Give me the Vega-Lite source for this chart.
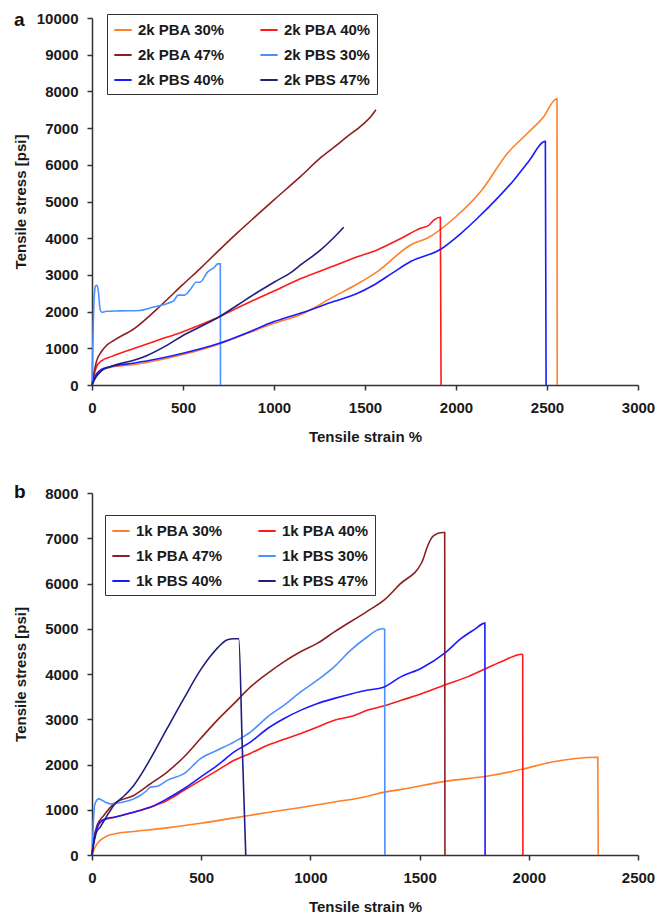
{
  "$schema": "https://vega.github.io/schema/vega-lite/v6.json",
  "padding": {"left": 13, "top": 11, "right": 5, "bottom": 0},
  "bounds": "flush",
  "spacing": 108,
  "config": {
    "font": "Liberation Sans",
    "view": {"stroke": null},
    "axis": {
      "grid": false,
      "domainColor": "#333333",
      "domainWidth": 1.5,
      "tickColor": "#333333",
      "tickWidth": 1.5,
      "tickSize": 5,
      "labelFont": "Liberation Sans",
      "labelFontSize": 15,
      "labelFontWeight": "bold",
      "labelColor": "#1a1a1a",
      "labelFlush": false,
      "labelOverlap": false,
      "titleFont": "Liberation Sans",
      "titleFontSize": 15,
      "titleFontWeight": "bold",
      "titleColor": "#1a1a1a"
    },
    "axisX": {"labelPadding": 10, "titlePadding": 14},
    "axisY": {"labelPadding": 9, "titleX": -72, "titleBaseline": "middle"},
    "legend": {
      "orient": "none",
      "columns": 2,
      "title": null,
      "symbolType": "stroke",
      "symbolSize": 300,
      "symbolStrokeWidth": 2,
      "labelFont": "Liberation Sans",
      "labelFontSize": 15,
      "labelFontWeight": "bold",
      "labelColor": "#1a1a1a",
      "labelOffset": 5,
      "strokeColor": "#333333",
      "fillColor": "white",
      "padding": 6,
      "rowPadding": 7,
      "columnPadding": 31
    },
    "title": {"font": "Liberation Sans", "fontSize": 19, "fontWeight": "bold", "color": "#111111"}
  },
  "resolve": {
    "scale": {"x": "independent", "y": "independent", "color": "independent"},
    "legend": {"color": "independent"}
  },
  "datasets": {
    "a": [
      {"s": "2k PBA 30%", "x": 0, "y": 0}, {"s": "2k PBA 30%", "x": 10, "y": 150}, {"s": "2k PBA 30%", "x": 25, "y": 300}, {"s": "2k PBA 30%", "x": 50, "y": 400}, {"s": "2k PBA 30%", "x": 100, "y": 480}, {"s": "2k PBA 30%", "x": 234, "y": 560}, {"s": "2k PBA 30%", "x": 350, "y": 660}, {"s": "2k PBA 30%", "x": 500, "y": 830}, {"s": "2k PBA 30%", "x": 700, "y": 1120}, {"s": "2k PBA 30%", "x": 850, "y": 1400}, {"s": "2k PBA 30%", "x": 1000, "y": 1680}, {"s": "2k PBA 30%", "x": 1148, "y": 1920}, {"s": "2k PBA 30%", "x": 1331, "y": 2416}, {"s": "2k PBA 30%", "x": 1450, "y": 2730}, {"s": "2k PBA 30%", "x": 1570, "y": 3098}, {"s": "2k PBA 30%", "x": 1753, "y": 3823}, {"s": "2k PBA 30%", "x": 1844, "y": 4005}, {"s": "2k PBA 30%", "x": 1991, "y": 4550}, {"s": "2k PBA 30%", "x": 2137, "y": 5278}, {"s": "2k PBA 30%", "x": 2284, "y": 6321}, {"s": "2k PBA 30%", "x": 2394, "y": 6866}, {"s": "2k PBA 30%", "x": 2480, "y": 7300}, {"s": "2k PBA 30%", "x": 2544, "y": 7774}, {"s": "2k PBA 30%", "x": 2555, "y": 7800}, {"s": "2k PBA 30%", "x": 2556, "y": 0},
      {"s": "2k PBA 40%", "x": 0, "y": 0}, {"s": "2k PBA 40%", "x": 10, "y": 250}, {"s": "2k PBA 40%", "x": 25, "y": 500}, {"s": "2k PBA 40%", "x": 50, "y": 650}, {"s": "2k PBA 40%", "x": 110, "y": 780}, {"s": "2k PBA 40%", "x": 234, "y": 1000}, {"s": "2k PBA 40%", "x": 350, "y": 1200}, {"s": "2k PBA 40%", "x": 500, "y": 1454}, {"s": "2k PBA 40%", "x": 600, "y": 1650}, {"s": "2k PBA 40%", "x": 700, "y": 1863}, {"s": "2k PBA 40%", "x": 850, "y": 2220}, {"s": "2k PBA 40%", "x": 1000, "y": 2560}, {"s": "2k PBA 40%", "x": 1148, "y": 2900}, {"s": "2k PBA 40%", "x": 1331, "y": 3250}, {"s": "2k PBA 40%", "x": 1450, "y": 3480}, {"s": "2k PBA 40%", "x": 1570, "y": 3687}, {"s": "2k PBA 40%", "x": 1700, "y": 4000}, {"s": "2k PBA 40%", "x": 1808, "y": 4278}, {"s": "2k PBA 40%", "x": 1850, "y": 4350}, {"s": "2k PBA 40%", "x": 1880, "y": 4500}, {"s": "2k PBA 40%", "x": 1914, "y": 4569}, {"s": "2k PBA 40%", "x": 1918, "y": 0},
      {"s": "2k PBA 47%", "x": 0, "y": 0}, {"s": "2k PBA 47%", "x": 10, "y": 300}, {"s": "2k PBA 47%", "x": 25, "y": 650}, {"s": "2k PBA 47%", "x": 50, "y": 900}, {"s": "2k PBA 47%", "x": 80, "y": 1080}, {"s": "2k PBA 47%", "x": 125, "y": 1230}, {"s": "2k PBA 47%", "x": 234, "y": 1545}, {"s": "2k PBA 47%", "x": 381, "y": 2180}, {"s": "2k PBA 47%", "x": 500, "y": 2740}, {"s": "2k PBA 47%", "x": 600, "y": 3200}, {"s": "2k PBA 47%", "x": 700, "y": 3680}, {"s": "2k PBA 47%", "x": 800, "y": 4150}, {"s": "2k PBA 47%", "x": 900, "y": 4600}, {"s": "2k PBA 47%", "x": 1000, "y": 5045}, {"s": "2k PBA 47%", "x": 1148, "y": 5690}, {"s": "2k PBA 47%", "x": 1258, "y": 6200}, {"s": "2k PBA 47%", "x": 1330, "y": 6480}, {"s": "2k PBA 47%", "x": 1400, "y": 6760}, {"s": "2k PBA 47%", "x": 1487, "y": 7093}, {"s": "2k PBA 47%", "x": 1530, "y": 7300}, {"s": "2k PBA 47%", "x": 1560, "y": 7500},
      {"s": "2k PBS 30%", "x": 0, "y": 0}, {"s": "2k PBS 30%", "x": 5, "y": 1200}, {"s": "2k PBS 30%", "x": 12, "y": 2400}, {"s": "2k PBS 30%", "x": 20, "y": 2700}, {"s": "2k PBS 30%", "x": 28, "y": 2720}, {"s": "2k PBS 30%", "x": 36, "y": 2500}, {"s": "2k PBS 30%", "x": 45, "y": 2050}, {"s": "2k PBS 30%", "x": 55, "y": 1980}, {"s": "2k PBS 30%", "x": 80, "y": 2010}, {"s": "2k PBS 30%", "x": 150, "y": 2020}, {"s": "2k PBS 30%", "x": 260, "y": 2030}, {"s": "2k PBS 30%", "x": 320, "y": 2100}, {"s": "2k PBS 30%", "x": 363, "y": 2150}, {"s": "2k PBS 30%", "x": 418, "y": 2230}, {"s": "2k PBS 30%", "x": 450, "y": 2300}, {"s": "2k PBS 30%", "x": 473, "y": 2450}, {"s": "2k PBS 30%", "x": 509, "y": 2450}, {"s": "2k PBS 30%", "x": 540, "y": 2600}, {"s": "2k PBS 30%", "x": 573, "y": 2800}, {"s": "2k PBS 30%", "x": 592, "y": 2800}, {"s": "2k PBS 30%", "x": 637, "y": 3090}, {"s": "2k PBS 30%", "x": 670, "y": 3200}, {"s": "2k PBS 30%", "x": 692, "y": 3300}, {"s": "2k PBS 30%", "x": 705, "y": 3300}, {"s": "2k PBS 30%", "x": 706, "y": 0},
      {"s": "2k PBS 40%", "x": 0, "y": 0}, {"s": "2k PBS 40%", "x": 10, "y": 150}, {"s": "2k PBS 40%", "x": 25, "y": 300}, {"s": "2k PBS 40%", "x": 50, "y": 420}, {"s": "2k PBS 40%", "x": 100, "y": 500}, {"s": "2k PBS 40%", "x": 234, "y": 600}, {"s": "2k PBS 40%", "x": 350, "y": 700}, {"s": "2k PBS 40%", "x": 500, "y": 864}, {"s": "2k PBS 40%", "x": 700, "y": 1136}, {"s": "2k PBS 40%", "x": 850, "y": 1420}, {"s": "2k PBS 40%", "x": 1000, "y": 1727}, {"s": "2k PBS 40%", "x": 1148, "y": 1962}, {"s": "2k PBS 40%", "x": 1331, "y": 2280}, {"s": "2k PBS 40%", "x": 1450, "y": 2480}, {"s": "2k PBS 40%", "x": 1551, "y": 2733}, {"s": "2k PBS 40%", "x": 1650, "y": 3050}, {"s": "2k PBS 40%", "x": 1753, "y": 3370}, {"s": "2k PBS 40%", "x": 1918, "y": 3705}, {"s": "2k PBS 40%", "x": 2020, "y": 4100}, {"s": "2k PBS 40%", "x": 2119, "y": 4550}, {"s": "2k PBS 40%", "x": 2220, "y": 5050}, {"s": "2k PBS 40%", "x": 2320, "y": 5595}, {"s": "2k PBS 40%", "x": 2400, "y": 6100}, {"s": "2k PBS 40%", "x": 2491, "y": 6640}, {"s": "2k PBS 40%", "x": 2495, "y": 0},
      {"s": "2k PBS 47%", "x": 0, "y": 0}, {"s": "2k PBS 47%", "x": 20, "y": 200}, {"s": "2k PBS 47%", "x": 50, "y": 380}, {"s": "2k PBS 47%", "x": 100, "y": 500}, {"s": "2k PBS 47%", "x": 150, "y": 580}, {"s": "2k PBS 47%", "x": 234, "y": 680}, {"s": "2k PBS 47%", "x": 300, "y": 800}, {"s": "2k PBS 47%", "x": 418, "y": 1100}, {"s": "2k PBS 47%", "x": 500, "y": 1350}, {"s": "2k PBS 47%", "x": 600, "y": 1600}, {"s": "2k PBS 47%", "x": 700, "y": 1860}, {"s": "2k PBS 47%", "x": 800, "y": 2180}, {"s": "2k PBS 47%", "x": 900, "y": 2500}, {"s": "2k PBS 47%", "x": 1000, "y": 2800}, {"s": "2k PBS 47%", "x": 1100, "y": 3090}, {"s": "2k PBS 47%", "x": 1148, "y": 3278}, {"s": "2k PBS 47%", "x": 1258, "y": 3687}, {"s": "2k PBS 47%", "x": 1315, "y": 3950}, {"s": "2k PBS 47%", "x": 1383, "y": 4300}
    ],
    "b": [
      {"s": "1k PBA 30%", "x": 0, "y": 0}, {"s": "1k PBA 30%", "x": 10, "y": 130}, {"s": "1k PBA 30%", "x": 23, "y": 244}, {"s": "1k PBA 30%", "x": 45, "y": 350}, {"s": "1k PBA 30%", "x": 69, "y": 420}, {"s": "1k PBA 30%", "x": 115, "y": 480}, {"s": "1k PBA 30%", "x": 191, "y": 520}, {"s": "1k PBA 30%", "x": 344, "y": 600}, {"s": "1k PBA 30%", "x": 497, "y": 700}, {"s": "1k PBA 30%", "x": 651, "y": 820}, {"s": "1k PBA 30%", "x": 804, "y": 940}, {"s": "1k PBA 30%", "x": 957, "y": 1050}, {"s": "1k PBA 30%", "x": 1110, "y": 1170}, {"s": "1k PBA 30%", "x": 1263, "y": 1300}, {"s": "1k PBA 30%", "x": 1339, "y": 1390}, {"s": "1k PBA 30%", "x": 1416, "y": 1450}, {"s": "1k PBA 30%", "x": 1615, "y": 1627}, {"s": "1k PBA 30%", "x": 1814, "y": 1745}, {"s": "1k PBA 30%", "x": 1968, "y": 1893}, {"s": "1k PBA 30%", "x": 2106, "y": 2056}, {"s": "1k PBA 30%", "x": 2313, "y": 2160}, {"s": "1k PBA 30%", "x": 2316, "y": 2160}, {"s": "1k PBA 30%", "x": 2318, "y": 0},
      {"s": "1k PBA 40%", "x": 0, "y": 0}, {"s": "1k PBA 40%", "x": 8, "y": 300}, {"s": "1k PBA 40%", "x": 20, "y": 550}, {"s": "1k PBA 40%", "x": 38, "y": 720}, {"s": "1k PBA 40%", "x": 70, "y": 800}, {"s": "1k PBA 40%", "x": 100, "y": 830}, {"s": "1k PBA 40%", "x": 191, "y": 947}, {"s": "1k PBA 40%", "x": 268, "y": 1058}, {"s": "1k PBA 40%", "x": 344, "y": 1205}, {"s": "1k PBA 40%", "x": 421, "y": 1427}, {"s": "1k PBA 40%", "x": 497, "y": 1649}, {"s": "1k PBA 40%", "x": 574, "y": 1871}, {"s": "1k PBA 40%", "x": 651, "y": 2093}, {"s": "1k PBA 40%", "x": 727, "y": 2250}, {"s": "1k PBA 40%", "x": 804, "y": 2426}, {"s": "1k PBA 40%", "x": 880, "y": 2560}, {"s": "1k PBA 40%", "x": 957, "y": 2685}, {"s": "1k PBA 40%", "x": 1033, "y": 2830}, {"s": "1k PBA 40%", "x": 1110, "y": 2980}, {"s": "1k PBA 40%", "x": 1186, "y": 3060}, {"s": "1k PBA 40%", "x": 1263, "y": 3202}, {"s": "1k PBA 40%", "x": 1339, "y": 3298}, {"s": "1k PBA 40%", "x": 1416, "y": 3420}, {"s": "1k PBA 40%", "x": 1492, "y": 3535}, {"s": "1k PBA 40%", "x": 1615, "y": 3757}, {"s": "1k PBA 40%", "x": 1722, "y": 3942}, {"s": "1k PBA 40%", "x": 1799, "y": 4112}, {"s": "1k PBA 40%", "x": 1876, "y": 4275}, {"s": "1k PBA 40%", "x": 1968, "y": 4438}, {"s": "1k PBA 40%", "x": 1972, "y": 4430}, {"s": "1k PBA 40%", "x": 1973, "y": 0},
      {"s": "1k PBA 47%", "x": 0, "y": 0}, {"s": "1k PBA 47%", "x": 10, "y": 400}, {"s": "1k PBA 47%", "x": 23, "y": 650}, {"s": "1k PBA 47%", "x": 54, "y": 873}, {"s": "1k PBA 47%", "x": 100, "y": 1130}, {"s": "1k PBA 47%", "x": 191, "y": 1316}, {"s": "1k PBA 47%", "x": 268, "y": 1575}, {"s": "1k PBA 47%", "x": 344, "y": 1834}, {"s": "1k PBA 47%", "x": 421, "y": 2167}, {"s": "1k PBA 47%", "x": 497, "y": 2574}, {"s": "1k PBA 47%", "x": 574, "y": 2981}, {"s": "1k PBA 47%", "x": 651, "y": 3350}, {"s": "1k PBA 47%", "x": 727, "y": 3720}, {"s": "1k PBA 47%", "x": 804, "y": 4016}, {"s": "1k PBA 47%", "x": 880, "y": 4275}, {"s": "1k PBA 47%", "x": 957, "y": 4497}, {"s": "1k PBA 47%", "x": 1033, "y": 4682}, {"s": "1k PBA 47%", "x": 1110, "y": 4930}, {"s": "1k PBA 47%", "x": 1258, "y": 5380}, {"s": "1k PBA 47%", "x": 1340, "y": 5643}, {"s": "1k PBA 47%", "x": 1410, "y": 5985}, {"s": "1k PBA 47%", "x": 1510, "y": 6464}, {"s": "1k PBA 47%", "x": 1540, "y": 6868}, {"s": "1k PBA 47%", "x": 1563, "y": 7054}, {"s": "1k PBA 47%", "x": 1605, "y": 7127}, {"s": "1k PBA 47%", "x": 1615, "y": 7127}, {"s": "1k PBA 47%", "x": 1616, "y": 0},
      {"s": "1k PBS 30%", "x": 0, "y": 0}, {"s": "1k PBS 30%", "x": 5, "y": 600}, {"s": "1k PBS 30%", "x": 12, "y": 1100}, {"s": "1k PBS 30%", "x": 23, "y": 1220}, {"s": "1k PBS 30%", "x": 32, "y": 1240}, {"s": "1k PBS 30%", "x": 50, "y": 1200}, {"s": "1k PBS 30%", "x": 84, "y": 1130}, {"s": "1k PBS 30%", "x": 145, "y": 1170}, {"s": "1k PBS 30%", "x": 191, "y": 1240}, {"s": "1k PBS 30%", "x": 222, "y": 1320}, {"s": "1k PBS 30%", "x": 250, "y": 1420}, {"s": "1k PBS 30%", "x": 268, "y": 1500}, {"s": "1k PBS 30%", "x": 300, "y": 1520}, {"s": "1k PBS 30%", "x": 344, "y": 1649}, {"s": "1k PBS 30%", "x": 421, "y": 1797}, {"s": "1k PBS 30%", "x": 497, "y": 2130}, {"s": "1k PBS 30%", "x": 574, "y": 2315}, {"s": "1k PBS 30%", "x": 651, "y": 2500}, {"s": "1k PBS 30%", "x": 727, "y": 2722}, {"s": "1k PBS 30%", "x": 804, "y": 3055}, {"s": "1k PBS 30%", "x": 880, "y": 3313}, {"s": "1k PBS 30%", "x": 957, "y": 3609}, {"s": "1k PBS 30%", "x": 1033, "y": 3868}, {"s": "1k PBS 30%", "x": 1110, "y": 4164}, {"s": "1k PBS 30%", "x": 1186, "y": 4534}, {"s": "1k PBS 30%", "x": 1263, "y": 4829}, {"s": "1k PBS 30%", "x": 1309, "y": 4977}, {"s": "1k PBS 30%", "x": 1330, "y": 5000}, {"s": "1k PBS 30%", "x": 1340, "y": 4990}, {"s": "1k PBS 30%", "x": 1341, "y": 0},
      {"s": "1k PBS 40%", "x": 0, "y": 0}, {"s": "1k PBS 40%", "x": 8, "y": 300}, {"s": "1k PBS 40%", "x": 20, "y": 550}, {"s": "1k PBS 40%", "x": 38, "y": 740}, {"s": "1k PBS 40%", "x": 70, "y": 810}, {"s": "1k PBS 40%", "x": 100, "y": 836}, {"s": "1k PBS 40%", "x": 191, "y": 947}, {"s": "1k PBS 40%", "x": 268, "y": 1058}, {"s": "1k PBS 40%", "x": 344, "y": 1242}, {"s": "1k PBS 40%", "x": 421, "y": 1464}, {"s": "1k PBS 40%", "x": 497, "y": 1723}, {"s": "1k PBS 40%", "x": 574, "y": 1982}, {"s": "1k PBS 40%", "x": 651, "y": 2278}, {"s": "1k PBS 40%", "x": 727, "y": 2500}, {"s": "1k PBS 40%", "x": 804, "y": 2796}, {"s": "1k PBS 40%", "x": 880, "y": 3018}, {"s": "1k PBS 40%", "x": 957, "y": 3202}, {"s": "1k PBS 40%", "x": 1033, "y": 3350}, {"s": "1k PBS 40%", "x": 1110, "y": 3461}, {"s": "1k PBS 40%", "x": 1186, "y": 3560}, {"s": "1k PBS 40%", "x": 1263, "y": 3646}, {"s": "1k PBS 40%", "x": 1331, "y": 3700}, {"s": "1k PBS 40%", "x": 1416, "y": 3942}, {"s": "1k PBS 40%", "x": 1508, "y": 4127}, {"s": "1k PBS 40%", "x": 1615, "y": 4460}, {"s": "1k PBS 40%", "x": 1692, "y": 4792}, {"s": "1k PBS 40%", "x": 1750, "y": 4980}, {"s": "1k PBS 40%", "x": 1799, "y": 5125}, {"s": "1k PBS 40%", "x": 1800, "y": 0},
      {"s": "1k PBS 47%", "x": 0, "y": 0}, {"s": "1k PBS 47%", "x": 10, "y": 300}, {"s": "1k PBS 47%", "x": 20, "y": 500}, {"s": "1k PBS 47%", "x": 38, "y": 620}, {"s": "1k PBS 47%", "x": 69, "y": 870}, {"s": "1k PBS 47%", "x": 100, "y": 1100}, {"s": "1k PBS 47%", "x": 150, "y": 1320}, {"s": "1k PBS 47%", "x": 191, "y": 1538}, {"s": "1k PBS 47%", "x": 268, "y": 2130}, {"s": "1k PBS 47%", "x": 344, "y": 2796}, {"s": "1k PBS 47%", "x": 421, "y": 3461}, {"s": "1k PBS 47%", "x": 497, "y": 4090}, {"s": "1k PBS 47%", "x": 540, "y": 4380}, {"s": "1k PBS 47%", "x": 574, "y": 4571}, {"s": "1k PBS 47%", "x": 620, "y": 4756}, {"s": "1k PBS 47%", "x": 650, "y": 4780}, {"s": "1k PBS 47%", "x": 672, "y": 4778}, {"s": "1k PBS 47%", "x": 688, "y": 2400}, {"s": "1k PBS 47%", "x": 704, "y": 0}
    ]
  },
  "vconcat": [
    {
      "width": 546,
      "height": 367,
      "title": {"text": "a", "anchor": "start", "frame": "group", "orient": "top", "offset": -34, "baseline": "alphabetic", "align": "left", "dx": -78},
      "data": {"name": "a"},
      "mark": {"type": "line", "strokeWidth": 1.6, "interpolate": "monotone"},
      "encoding": {
        "x": {"field": "x", "type": "quantitative", "scale": {"domain": [0, 3000], "nice": false}, "axis": {"values": [0, 500, 1000, 1500, 2000, 2500, 3000], "format": "d", "title": "Tensile strain %"}},
        "y": {"field": "y", "type": "quantitative", "scale": {"domain": [0, 10000], "nice": false}, "axis": {"values": [0, 1000, 2000, 3000, 4000, 5000, 6000, 7000, 8000, 9000, 10000], "format": "d", "title": "Tensile stress [psi]"}},
        "color": {
          "field": "s", "type": "nominal",
          "scale": {"domain": ["2k PBA 30%", "2k PBA 47%", "2k PBS 40%", "2k PBA 40%", "2k PBS 30%", "2k PBS 47%"], "range": ["#ff7f2a", "#8b2020", "#1a1aff", "#ff1a1a", "#4d8fff", "#1f1f80"]},
          "legend": {"legendX": 15, "legendY": -4}
        }
      }
    },
    {
      "width": 546,
      "height": 362,
      "title": {"text": "b", "anchor": "start", "frame": "group", "orient": "top", "offset": -31, "baseline": "alphabetic", "align": "left", "dx": -78},
      "data": {"name": "b"},
      "mark": {"type": "line", "strokeWidth": 1.6, "interpolate": "monotone"},
      "encoding": {
        "x": {"field": "x", "type": "quantitative", "scale": {"domain": [0, 2500], "nice": false}, "axis": {"values": [0, 500, 1000, 1500, 2000, 2500], "format": "d", "title": "Tensile strain %"}},
        "y": {"field": "y", "type": "quantitative", "scale": {"domain": [0, 8000], "nice": false}, "axis": {"values": [0, 1000, 2000, 3000, 4000, 5000, 6000, 7000, 8000], "format": "d", "title": "Tensile stress [psi]"}},
        "color": {
          "field": "s", "type": "nominal",
          "scale": {"domain": ["1k PBA 30%", "1k PBA 47%", "1k PBS 40%", "1k PBA 40%", "1k PBS 30%", "1k PBS 47%"], "range": ["#ff7f2a", "#8b2020", "#1a1aff", "#ff1a1a", "#4d8fff", "#1f1f80"]},
          "legend": {"legendX": 13, "legendY": 22}
        }
      }
    }
  ]
}
